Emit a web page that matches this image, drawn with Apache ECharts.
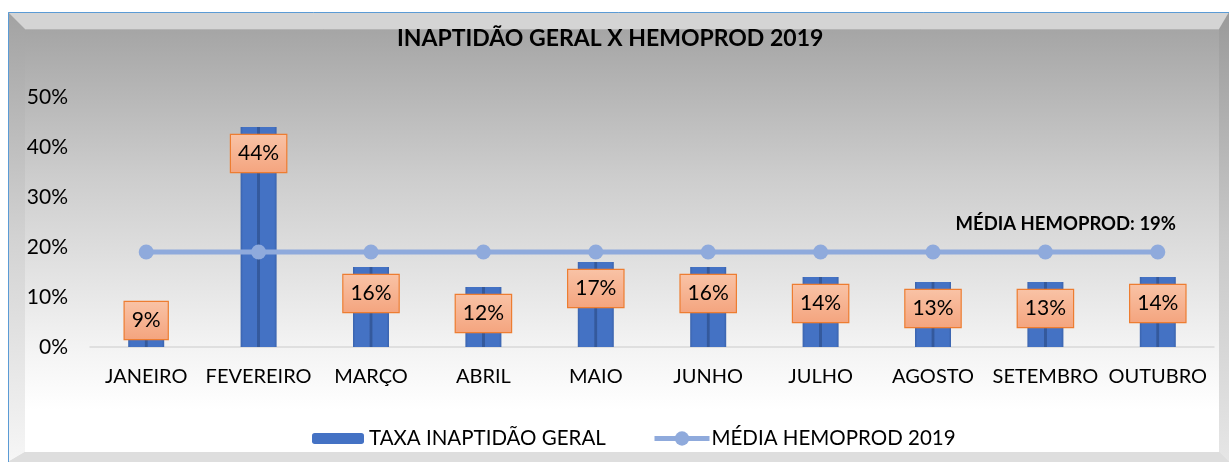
<!DOCTYPE html>
<html>
<head>
<meta charset="utf-8">
<script src="https://cdn.jsdelivr.net/npm/echarts@6/dist/echarts.min.js"></script>
<style>
  html, body { margin: 0; padding: 0; background: #ffffff; }
  #chart { width: 1229px; height: 462px; }
</style>
</head>
<body>
<div id="chart"></div>
<script>
const categories = ['JANEIRO', 'FEVEREIRO', 'MARÇO', 'ABRIL', 'MAIO', 'JUNHO', 'JULHO', 'AGOSTO', 'SETEMBRO', 'OUTUBRO'];
const taxaInaptidao = [9, 44, 16, 12, 17, 16, 14, 13, 13, 14];
const mediaHemoprod = [19, 19, 19, 19, 19, 19, 19, 19, 19, 19];
const yTicks = [0, 10, 20, 30, 40, 50];
const titleText = 'INAPTIDÃO GERAL X HEMOPROD 2019';
const barName = 'TAXA INAPTIDÃO GERAL';
const lineName = 'MÉDIA HEMOPROD 2019';
const mediaLabel = 'MÉDIA HEMOPROD: 19%';

const FONT = 'Lato, "Open Sans", sans-serif';
const chart = echarts.init(document.getElementById('chart'), null, { renderer: 'canvas' });

const labelBox = {
  show: true,
  position: 'insideTop',
  distance: 8,
  formatter: '{c}%',
  fontFamily: FONT,
  fontSize: 21,
  color: '#000000',
  lineHeight: 23,
  padding: [7, 7, 7, 7],
  borderColor: '#ed7d31',
  borderWidth: 1.2,
  backgroundColor: new echarts.graphic.LinearGradient(0, 0, 0, 1, [
    { offset: 0, color: '#f9c3a6' },
    { offset: 1, color: '#f4a47e' }
  ])
};

const barData = taxaInaptidao.map((v, i) => {
  if (v * 5 < 47) {
    return { value: v, label: { position: 'insideBottom', distance: 8 } };
  }
  return v;
});

const lineData = mediaHemoprod.map((v, i) => {
  if (i === mediaHemoprod.length - 1) {
    return {
      value: v,
      label: {
        show: true,
        position: 'top',
        distance: 5,
        offset: [-92, -6],
        formatter: mediaLabel,
        fontFamily: FONT,
        fontWeight: 'bold',
        fontSize: 18.5,
        color: '#000000'
      }
    };
  }
  return v;
});

const W = 1229, H = 462;
const option = {
  animation: false,
  backgroundColor: '#ffffff',
  graphic: [
    { type: 'rect', shape: { x: 8, y: 12, width: W - 8, height: H - 12 }, style: { fill: '#dcdcdc' }, z: -10 },
    { type: 'rect', shape: { x: 25, y: 29, width: 1194, height: 423 },
      style: { fill: new echarts.graphic.LinearGradient(0, 0, 0, 1, [
        { offset: 0, color: '#a5a5a5' },
        { offset: 0.35, color: '#cdcdcd' },
        { offset: 0.75, color: '#f3f3f3' },
        { offset: 0.9, color: '#ffffff' },
        { offset: 1, color: '#ffffff' }
      ]) }, z: -9 },
    { type: 'polygon', shape: { points: [[8, 12], [W, 12], [W - 10, 29], [25, 29]] }, style: { fill: '#d4d4d4' }, z: -8 },
    { type: 'line', shape: { x1: 25, y1: 29.5, x2: 1219, y2: 29.5 }, style: { stroke: '#b4b4b4', lineWidth: 1 }, z: -7 },
    { type: 'polygon', shape: { points: [[8, 12], [25, 29], [25, 452], [8, H]] },
      style: { fill: new echarts.graphic.LinearGradient(0, 0, 0, 1, [
        { offset: 0, color: '#a2a2a2' },
        { offset: 0.5, color: '#d2d2d2' },
        { offset: 1, color: '#f6f6f6' }
      ]) }, z: -8 },
    { type: 'polygon', shape: { points: [[W, 12], [W, H], [1219, 452], [1219, 29]] },
      style: { fill: new echarts.graphic.LinearGradient(0, 0, 0, 1, [
        { offset: 0, color: '#9a9a9a' },
        { offset: 0.5, color: '#c8c8c8' },
        { offset: 1, color: '#e6e6e6' }
      ]) }, z: -8 },
    { type: 'polygon', shape: { points: [[8, H], [25, 452], [1219, 452], [W, H]] }, style: { fill: '#dedede' }, z: -8 },
    { type: 'polyline', shape: { points: [[8.5, H], [8.5, 12.5], [W, 12.5]] }, style: { stroke: '#5b9bd5', lineWidth: 1, fill: null }, z: -6 }
  ],
  title: {
    text: titleText,
    left: 392,
    top: 22,
    textStyle: { fontFamily: FONT, fontWeight: 'bold', fontSize: 23, color: '#000000' }
  },
  legend: [
    {
      data: [{ name: barName, itemStyle: { color: '#4472c4' } }],
      left: 307,
      top: 423,
      itemWidth: 52,
      itemHeight: 11,
      itemGap: 4,
      textStyle: { fontFamily: FONT, fontSize: 20.5, color: '#000000', padding: [0, 0, 0, 0] }
    },
    {
      data: [lineName],
      left: 647,
      top: 423,
      itemWidth: 55,
      itemHeight: 18,
      lineStyle: { width: 5 },
      textStyle: { fontFamily: FONT, fontSize: 20.5, color: '#000000', padding: [0, 0, 0, -3] }
    }
  ],
  grid: { left: 90, right: 15, top: 97, bottom: 115, containLabel: false },
  xAxis: {
    type: 'category',
    data: categories,
    axisLine: { lineStyle: { color: '#d9d9d9', width: 1.5 } },
    axisTick: { show: false },
    axisLabel: { interval: 0, fontFamily: FONT, fontSize: 20, color: '#000000', margin: 20 }
  },
  yAxis: {
    type: 'value',
    min: yTicks[0],
    max: yTicks[yTicks.length - 1],
    interval: 10,
    axisLine: { show: false },
    axisTick: { show: false },
    splitLine: { show: false },
    axisLabel: { fontFamily: FONT, fontSize: 21, color: '#000000', margin: 22, formatter: '{value}%' }
  },
  series: [
    {
      name: barName,
      type: 'bar',
      data: barData,
      barWidth: 36,
      itemStyle: {
        color: new echarts.graphic.LinearGradient(0, 0, 1, 0, [
          { offset: 0, color: '#3a63ad' },
          { offset: 0.07, color: '#4472c4' },
          { offset: 0.45, color: '#4472c4' },
          { offset: 0.47, color: '#34599c' },
          { offset: 0.53, color: '#34599c' },
          { offset: 0.55, color: '#4472c4' },
          { offset: 0.93, color: '#4472c4' },
          { offset: 1, color: '#3a63ad' }
        ])
      },
      label: labelBox,
      z: 2
    },
    {
      name: lineName,
      type: 'line',
      data: lineData,
      symbol: 'circle',
      symbolSize: 15,
      lineStyle: { color: '#8faadc', width: 5 },
      itemStyle: { color: '#8faadc' },
      label: { show: false },
      z: 3
    }
  ]
};
chart.setOption(option);
</script>
</body>
</html>
